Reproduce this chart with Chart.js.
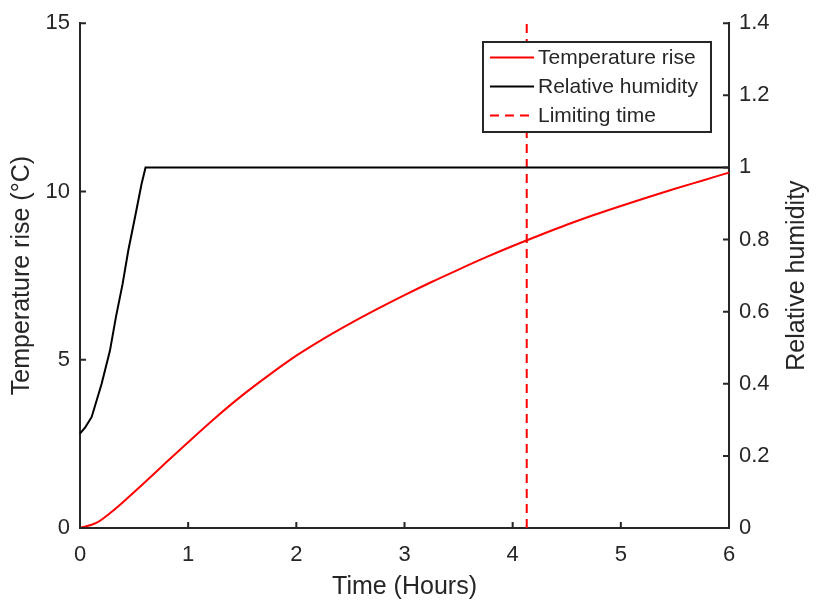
<!DOCTYPE html>
<html>
<head>
<meta charset="utf-8">
<script src="https://cdn.jsdelivr.net/npm/chart.js@4.4.0/dist/chart.umd.min.js"></script>
<style>
  html, body { margin: 0; padding: 0; background: #fff; }
  #wrap { width: 816px; height: 606px; }
</style>
</head>
<body>
<div id="wrap"><canvas id="grafico" width="816" height="606"></canvas></div>
<script>
// temperature rise (°C) over time (hours)
const tempHours = [0, 0.15, 0.3, 0.45, 0.6, 0.8, 1.0, 1.25, 1.5, 1.75, 2.0, 2.25, 2.5, 2.75, 3.0,
  3.25, 3.5, 3.75, 4.0, 4.25, 4.5, 4.75, 5.0, 5.25, 5.5, 5.75, 6.0];
const tempRise = [0, 0.15, 0.5, 0.92, 1.36, 1.96, 2.55, 3.27, 3.94, 4.55, 5.12, 5.62, 6.08, 6.51, 6.92,
  7.31, 7.68, 8.04, 8.38, 8.7, 9.01, 9.3, 9.57, 9.83, 10.08, 10.32, 10.56];

// relative humidity (0..1) over time (hours)
const rhHours = [0, 0.05, 0.108, 0.2, 0.277, 0.332, 0.394, 0.446, 0.508, 0.569, 0.606, 6.0];
const rhValues = [0.262, 0.28, 0.308, 0.4, 0.492, 0.585, 0.677, 0.769, 0.861, 0.954, 1.0, 1.0];

// limiting time (hours)
const limitingTime = 4.13;

const corEixo = '#262626';
const fonte = '"Liberation Sans", Arial, Helvetica, sans-serif';
const tituloDireita = 'Relative humidity';

Chart.defaults.font.family = fonte;
Chart.defaults.color = corEixo;

function paraPontos(xs, ys) {
  return xs.map((x, i) => ({ x: x, y: ys[i] }));
}

// inward tick marks, MATLAB style
const marcasInternas = {
  id: 'marcasInternas',
  afterDraw(chart) {
    const ctx = chart.ctx;
    const area = chart.chartArea;
    const len = 6;
    ctx.save();
    ctx.strokeStyle = corEixo;
    ctx.lineWidth = 2;
    ctx.beginPath();
    chart.scales.x.ticks.forEach((t) => {
      const px = chart.scales.x.getPixelForValue(t.value);
      ctx.moveTo(px, area.bottom);
      ctx.lineTo(px, area.bottom - len);
    });
    chart.scales.y.ticks.forEach((t) => {
      const py = chart.scales.y.getPixelForValue(t.value);
      ctx.moveTo(area.left, py);
      ctx.lineTo(area.left + len, py);
    });
    chart.scales.y1.ticks.forEach((t) => {
      const py = chart.scales.y1.getPixelForValue(t.value);
      ctx.moveTo(area.right, py);
      ctx.lineTo(area.right - len, py);
    });
    ctx.stroke();

    // right axis title, read bottom to top
    ctx.translate(797, (area.top + area.bottom) / 2);
    ctx.rotate(-Math.PI / 2);
    ctx.fillStyle = corEixo;
    ctx.font = '25px ' + fonte;
    ctx.textAlign = 'center';
    ctx.textBaseline = 'middle';
    ctx.fillText(tituloDireita, 0, 0);
    ctx.restore();
  },
};

// boxed legend inside the plot
const legendaCaixa = {
  id: 'legendaCaixa',
  afterDraw(chart) {
    const ctx = chart.ctx;
    const x0 = 483, y0 = 42, w = 228, h = 90;
    ctx.save();
    ctx.fillStyle = '#fff';
    ctx.fillRect(x0, y0, w, h);
    ctx.strokeStyle = corEixo;
    ctx.lineWidth = 2;
    ctx.strokeRect(x0, y0, w, h);
    chart.data.datasets.forEach((ds, i) => {
      const y = y0 + 15.5 + i * 29;
      ctx.beginPath();
      ctx.setLineDash(ds.borderDash || []);
      ctx.strokeStyle = ds.borderColor;
      ctx.lineWidth = ds.borderWidth;
      ctx.moveTo(x0 + 7, y);
      ctx.lineTo(x0 + 51, y);
      ctx.stroke();
      ctx.setLineDash([]);
      ctx.fillStyle = corEixo;
      ctx.font = '21px ' + fonte;
      ctx.textBaseline = 'middle';
      ctx.fillText(ds.label, x0 + 55, y + 1);
    });
    ctx.restore();
  },
};

new Chart(document.getElementById('grafico'), {
  type: 'line',
  data: {
    datasets: [
      {
        label: 'Temperature rise',
        data: paraPontos(tempHours, tempRise),
        yAxisID: 'y',
        borderColor: '#ff0000',
        borderWidth: 2,
        pointRadius: 0,
        cubicInterpolationMode: 'monotone',
        clip: false,
      },
      {
        label: 'Relative humidity',
        data: paraPontos(rhHours, rhValues),
        yAxisID: 'y1',
        borderColor: '#000000',
        borderWidth: 2,
        pointRadius: 0,
        tension: 0,
        clip: false,
      },
      {
        label: 'Limiting time',
        data: paraPontos([limitingTime, limitingTime], [0, 15]),
        yAxisID: 'y',
        borderColor: '#ff0000',
        borderWidth: 2,
        borderDash: [9, 6],
        pointRadius: 0,
        clip: false,
      },
    ],
  },
  options: {
    responsive: false,
    animation: false,
    layout: { padding: { top: 21, left: 0, right: 0, bottom: 0 } },
    plugins: {
      legend: { display: false },
      tooltip: { enabled: false },
    },
    scales: {
      x: {
        type: 'linear',
        position: 'bottom',
        min: 0,
        max: 6,
        ticks: { stepSize: 1, padding: 14, maxRotation: 0, font: { size: 22 } },
        grid: { display: false, drawTicks: false },
        border: { display: true, color: corEixo, width: 2 },
        title: {
          display: true,
          text: 'Time (Hours)',
          font: { size: 25 },
          padding: { top: 0, bottom: 4 },
        },
        afterFit(scale) { scale.height = 78; },
      },
      y: {
        position: 'left',
        min: 0,
        max: 15,
        ticks: { stepSize: 5, padding: 10, font: { size: 22 } },
        grid: { display: false, drawTicks: false },
        border: { display: true, color: corEixo, width: 2 },
        title: {
          display: true,
          text: 'Temperature rise (°C)',
          font: { size: 25 },
          padding: { top: 7, bottom: 0 },
        },
        afterFit(scale) { scale.width = 80; },
      },
      y1: {
        position: 'right',
        min: 0,
        max: 1.4,
        ticks: {
          stepSize: 0.2,
          padding: 10,
          font: { size: 22 },
          callback: (v) => String(+v.toFixed(1)),
        },
        grid: { display: false, drawTicks: false },
        border: { display: true, color: corEixo, width: 2 },
        title: { display: false },
        afterFit(scale) { scale.width = 87; },
      },
    },
  },
  plugins: [marcasInternas, legendaCaixa],
});
</script>
</body>
</html>
